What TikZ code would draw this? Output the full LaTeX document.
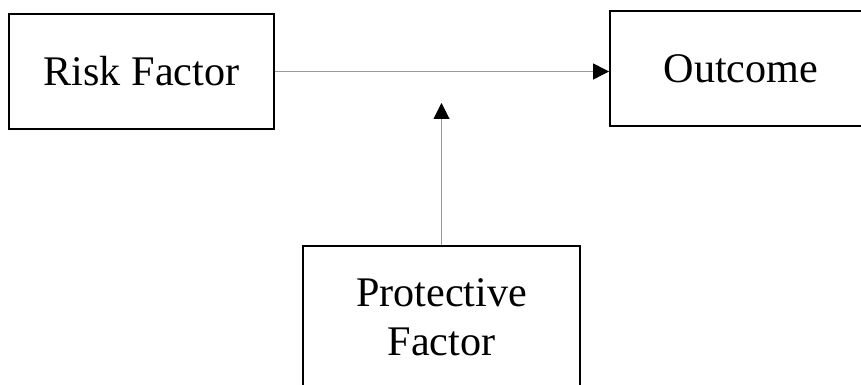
\documentclass[tikz,border=0pt]{standalone}
\usepackage{fontspec}
\setmainfont{Liberation Serif}
\usetikzlibrary{arrows.meta}

\begin{document}
\begin{tikzpicture}[font=\fontsize{30}{35}\selectfont]
\tikzset{
    BX/.style={draw=black, line width=1.3pt, align=center, inner sep=0pt},
    LN/.style={draw=gray!80, line width=0.7pt,
               -{Triangle[length=0.4cm, width=0.4cm, black]}},
}

% Page frame
\useasboundingbox (0,0) rectangle (21.525,-9.625);
\clip (0,0) rectangle (21.525,-9.625);

% Boxes
\node[BX, minimum width=6.625cm, minimum height=2.875cm] (risk)    at (3.5375, -1.7875) {Risk Factor};
\node[BX, minimum width=6.550cm, minimum height=2.875cm] (outcome) at (18.525, -1.7125) {Outcome};
\node[BX, minimum width=6.925cm, minimum height=3.550cm] (protect) at (11.0375,-7.925)  {Protective\\Factor};

% Free end of the moderator arrow
\coordinate (mod) at (11.0375, -2.575);

% Arrows
\draw[LN] (risk.east) -- (risk.east -| outcome.west);
\draw[LN] (protect.north) -- (mod);

\end{tikzpicture}
\end{document}
